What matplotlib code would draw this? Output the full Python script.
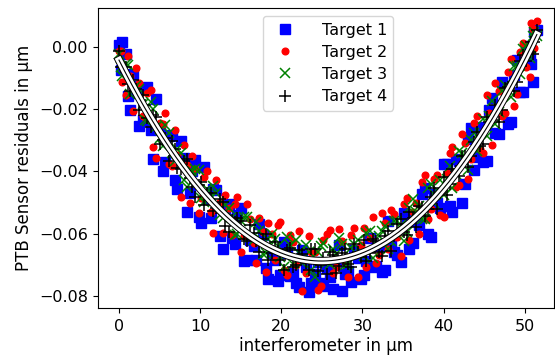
import numpy as np
import matplotlib
matplotlib.use('Agg')
import matplotlib.pyplot as plt

# interferometer positions (µm), two measurement runs shared by all targets
x_run1 = [0.0, 0.4, 1.1, 1.7, 2.5, 3.2, 3.9, 4.6, 5.4, 6.1, 6.9, 7.6, 8.4, 9.0,
          9.8, 10.5, 11.3, 12.0, 12.8, 13.5, 14.3, 15.0, 15.8, 16.6, 17.3, 18.1,
          18.8, 19.6, 20.3, 21.1, 21.8, 22.6, 23.4, 24.1, 24.9, 25.6, 26.4, 27.1,
          27.9, 28.6, 29.4, 30.2, 30.9, 31.7, 32.4, 33.2, 33.9, 34.7, 35.5, 36.2,
          37.0, 37.7, 38.5, 39.2, 40.0, 40.8, 41.5, 42.3, 43.0, 43.8, 44.5, 45.3,
          46.0, 46.8, 47.6, 48.3, 49.1, 49.8, 50.6, 51.0, 51.5]
x_run2 = [0.2, 0.8, 1.4, 2.1, 2.9, 3.5, 4.2, 5.0, 5.7, 6.5, 7.2, 8.0, 8.7, 9.4,
          10.1, 10.9, 11.6, 12.4, 13.1, 13.9, 14.6, 15.4, 16.2, 16.9, 17.7, 18.4,
          19.2, 19.9, 20.7, 21.4, 22.2, 23.0, 23.7, 24.5, 25.2, 26.0, 26.7, 27.5,
          28.2, 29.0, 29.8, 30.5, 31.3, 32.0, 32.8, 33.5, 34.3, 35.1, 35.8, 36.6,
          37.3, 38.1, 38.8, 39.6, 40.4, 41.1, 41.9, 42.6, 43.4, 44.1, 44.9, 45.6,
          46.4, 47.2, 47.9, 48.7, 49.4, 50.2, 50.8, 51.2]

# PTB sensor residuals (µm)
t1_run1 = [0.0007, 0.0017, -0.0158, -0.0087, -0.0254, -0.0136, -0.0267, -0.0166,
           -0.0399, -0.0287, -0.0427, -0.0302, -0.0530, -0.0400, -0.0545, -0.0387,
           -0.0550, -0.0459, -0.0649, -0.0506, -0.0634, -0.0519, -0.0685, -0.0639,
           -0.0570, -0.0712, -0.0661, -0.0751, -0.0628, -0.0735, -0.0760, -0.0654,
           -0.0788, -0.0729, -0.0760, -0.0710, -0.0778, -0.0635, -0.0731, -0.0756,
           -0.0680, -0.0732, -0.0613, -0.0703, -0.0723, -0.0560, -0.0658, -0.0692,
           -0.0545, -0.0630, -0.0571, -0.0453, -0.0611, -0.0501, -0.0377, -0.0512,
           -0.0359, -0.0501, -0.0295, -0.0395, -0.0257, -0.0365, -0.0165, -0.0280,
           -0.0133, -0.0240, -0.0041, -0.0146, -0.0035, -0.0113, 0.0054]
t1_run2 = [-0.0073, -0.0023, -0.0202, -0.0126, -0.0233, -0.0129, -0.0360, -0.0263,
           -0.0371, -0.0282, -0.0458, -0.0356, -0.0470, -0.0363, -0.0565, -0.0488,
           -0.0458, -0.0609, -0.0527, -0.0615, -0.0541, -0.0687, -0.0622, -0.0684,
           -0.0606, -0.0746, -0.0686, -0.0734, -0.0662, -0.0727, -0.0772, -0.0706,
           -0.0758, -0.0690, -0.0770, -0.0739, -0.0697, -0.0783, -0.0719, -0.0653,
           -0.0746, -0.0688, -0.0708, -0.0639, -0.0717, -0.0635, -0.0670, -0.0534,
           -0.0649, -0.0560, -0.0473, -0.0602, -0.0473, -0.0519, -0.0375, -0.0532,
           -0.0365, -0.0440, -0.0260, -0.0353, -0.0371, -0.0202, -0.0277, -0.0112,
           -0.0249, -0.0091, -0.0146, 0.0005, -0.0054, 0.0047]

t2_run1 = [-0.0013, -0.0113, -0.0028, -0.0207, -0.0114, -0.0226, -0.0137, -0.0356,
           -0.0249, -0.0377, -0.0267, -0.0482, -0.0380, -0.0350, -0.0535, -0.0417,
           -0.0530, -0.0429, -0.0599, -0.0516, -0.0504, -0.0659, -0.0505, -0.0629,
           -0.0550, -0.0722, -0.0601, -0.0571, -0.0718, -0.0605, -0.0700, -0.0784,
           -0.0608, -0.0659, -0.0770, -0.0600, -0.0728, -0.0585, -0.0691, -0.0606,
           -0.0740, -0.0582, -0.0613, -0.0693, -0.0533, -0.0650, -0.0538, -0.0672,
           -0.0485, -0.0530, -0.0601, -0.0413, -0.0521, -0.0411, -0.0547, -0.0342,
           -0.0449, -0.0281, -0.0425, -0.0245, -0.0327, -0.0155, -0.0315, -0.0140,
           -0.0213, -0.0040, -0.0151, 0.0014, -0.0095, 0.0057, 0.0084]
t2_run2 = [-0.0013, -0.0153, -0.0092, -0.0066, -0.0223, -0.0149, -0.0320, -0.0243,
           -0.0211, -0.0382, -0.0348, -0.0316, -0.0500, -0.0393, -0.0485, -0.0398,
           -0.0598, -0.0499, -0.0477, -0.0605, -0.0481, -0.0607, -0.0552, -0.0694,
           -0.0596, -0.0566, -0.0686, -0.0564, -0.0732, -0.0627, -0.0592, -0.0726,
           -0.0658, -0.0780, -0.0620, -0.0589, -0.0707, -0.0623, -0.0739, -0.0583,
           -0.0636, -0.0708, -0.0548, -0.0669, -0.0567, -0.0525, -0.0610, -0.0504,
           -0.0619, -0.0500, -0.0433, -0.0552, -0.0423, -0.0539, -0.0405, -0.0322,
           -0.0445, -0.0310, -0.0360, -0.0223, -0.0341, -0.0212, -0.0117, -0.0222,
           -0.0079, -0.0191, -0.0016, -0.0065, 0.0076, -0.0003]

t3_run1 = [-0.0023, -0.0093, -0.0058, -0.0137, -0.0134, -0.0236, -0.0177, -0.0256,
           -0.0319, -0.0277, -0.0367, -0.0342, -0.0450, -0.0400, -0.0395, -0.0497,
           -0.0480, -0.0469, -0.0549, -0.0516, -0.0604, -0.0559, -0.0545, -0.0619,
           -0.0590, -0.0662, -0.0601, -0.0641, -0.0708, -0.0635, -0.0620, -0.0694,
           -0.0658, -0.0739, -0.0640, -0.0690, -0.0648, -0.0615, -0.0701, -0.0646,
           -0.0620, -0.0672, -0.0593, -0.0633, -0.0593, -0.0650, -0.0558, -0.0572,
           -0.0595, -0.0490, -0.0511, -0.0553, -0.0441, -0.0461, -0.0477, -0.0382,
           -0.0409, -0.0341, -0.0395, -0.0275, -0.0277, -0.0285, -0.0175, -0.0210,
           -0.0123, -0.0160, -0.0061, -0.0006, -0.0035, 0.0037, 0.0034]
t3_run2 = [-0.0063, -0.0053, -0.0152, -0.0126, -0.0183, -0.0239, -0.0200, -0.0293,
           -0.0251, -0.0342, -0.0328, -0.0426, -0.0400, -0.0393, -0.0485, -0.0458,
           -0.0448, -0.0539, -0.0507, -0.0545, -0.0601, -0.0547, -0.0612, -0.0564,
           -0.0666, -0.0616, -0.0616, -0.0674, -0.0612, -0.0697, -0.0662, -0.0636,
           -0.0718, -0.0660, -0.0630, -0.0699, -0.0667, -0.0633, -0.0699, -0.0633,
           -0.0666, -0.0598, -0.0678, -0.0609, -0.0577, -0.0625, -0.0560, -0.0624,
           -0.0519, -0.0530, -0.0553, -0.0452, -0.0503, -0.0429, -0.0425, -0.0452,
           -0.0335, -0.0370, -0.0300, -0.0333, -0.0231, -0.0222, -0.0247, -0.0142,
           -0.0139, -0.0061, -0.0086, 0.0005, -0.0004, 0.0047]

t4_run1 = [-0.0013, -0.0063, -0.0118, -0.0107, -0.0204, -0.0186, -0.0257, -0.0226,
           -0.0299, -0.0367, -0.0327, -0.0392, -0.0360, -0.0450, -0.0445, -0.0507,
           -0.0470, -0.0519, -0.0499, -0.0596, -0.0564, -0.0559, -0.0625, -0.0599,
           -0.0660, -0.0602, -0.0661, -0.0651, -0.0718, -0.0645, -0.0700, -0.0664,
           -0.0718, -0.0649, -0.0700, -0.0730, -0.0668, -0.0705, -0.0651, -0.0706,
           -0.0660, -0.0622, -0.0663, -0.0623, -0.0673, -0.0590, -0.0608, -0.0552,
           -0.0605, -0.0550, -0.0511, -0.0543, -0.0481, -0.0521, -0.0417, -0.0442,
           -0.0399, -0.0351, -0.0385, -0.0305, -0.0317, -0.0225, -0.0235, -0.0240,
           -0.0133, -0.0120, -0.0111, -0.0026, -0.0015, -0.0023, 0.0054]
t4_run2 = [-0.0063, -0.0063, -0.0142, -0.0136, -0.0153, -0.0229, -0.0220, -0.0313,
           -0.0291, -0.0302, -0.0388, -0.0366, -0.0420, -0.0483, -0.0435, -0.0468,
           -0.0528, -0.0489, -0.0577, -0.0555, -0.0551, -0.0617, -0.0572, -0.0624,
           -0.0616, -0.0686, -0.0626, -0.0684, -0.0652, -0.0707, -0.0652, -0.0696,
           -0.0648, -0.0720, -0.0680, -0.0659, -0.0727, -0.0663, -0.0699, -0.0633,
           -0.0676, -0.0688, -0.0618, -0.0659, -0.0607, -0.0655, -0.0570, -0.0594,
           -0.0529, -0.0580, -0.0513, -0.0522, -0.0453, -0.0469, -0.0475, -0.0392,
           -0.0415, -0.0350, -0.0350, -0.0273, -0.0311, -0.0242, -0.0187, -0.0202,
           -0.0128, -0.0141, -0.0046, -0.0045, 0.0016, 0.0017]

labels = ['Target 1', 'Target 2', 'Target 3', 'Target 4']

x_all = x_run1 + x_run2
target1 = t1_run1 + t1_run2
target2 = t2_run1 + t2_run2
target3 = t3_run1 + t3_run2
target4 = t4_run1 + t4_run2

fig = plt.figure(figsize=(5.55, 3.56), dpi=100)
ax = fig.add_axes([0.176, 0.135, 0.822, 0.842])

ax.plot(x_all, target1, 's', color='b', markersize=7.5, label=labels[0])
ax.plot(x_all, target2, 'o', color='r', markersize=4.8, label=labels[1])
ax.plot(x_all, target3, 'x', color='g', markersize=7.5, mew=1.1, label=labels[2])
ax.plot(x_all, target4, '+', color='k', markersize=8.5, mew=1.1, label=labels[3])

# quadratic fit over all targets
fit_x = np.array(x_all * 4)
fit_y = np.array(target1 + target2 + target3 + target4)
coef = np.polyfit(fit_x, fit_y, 2)
xf = np.linspace(0, 51.5, 200)
yf = np.polyval(coef, xf)
ax.plot(xf, yf, color='k', lw=6.0, zorder=5)
ax.plot(xf, yf, color='w', lw=4.6, zorder=6)
ax.plot(xf, yf, color='k', lw=0.8, zorder=7)

ax.set_xlim(-2.63, 53.6)
ax.set_ylim(-0.0839, 0.0125)
ax.set_xticks([0, 10, 20, 30, 40, 50])
ax.set_yticks([-0.08, -0.06, -0.04, -0.02, 0.00])
ax.tick_params(labelsize=11.5)
ax.tick_params(axis='x', pad=4.5)
ax.set_xlabel('interferometer in µm', fontsize=12, labelpad=2)
ax.set_ylabel('PTB Sensor residuals in µm', fontsize=12)
ax.legend(loc='upper center', bbox_to_anchor=(0.505, 1.0), fontsize=11.5,
          handletextpad=1.3, labelspacing=0.45)

plt.savefig('out.png', dpi=100)
